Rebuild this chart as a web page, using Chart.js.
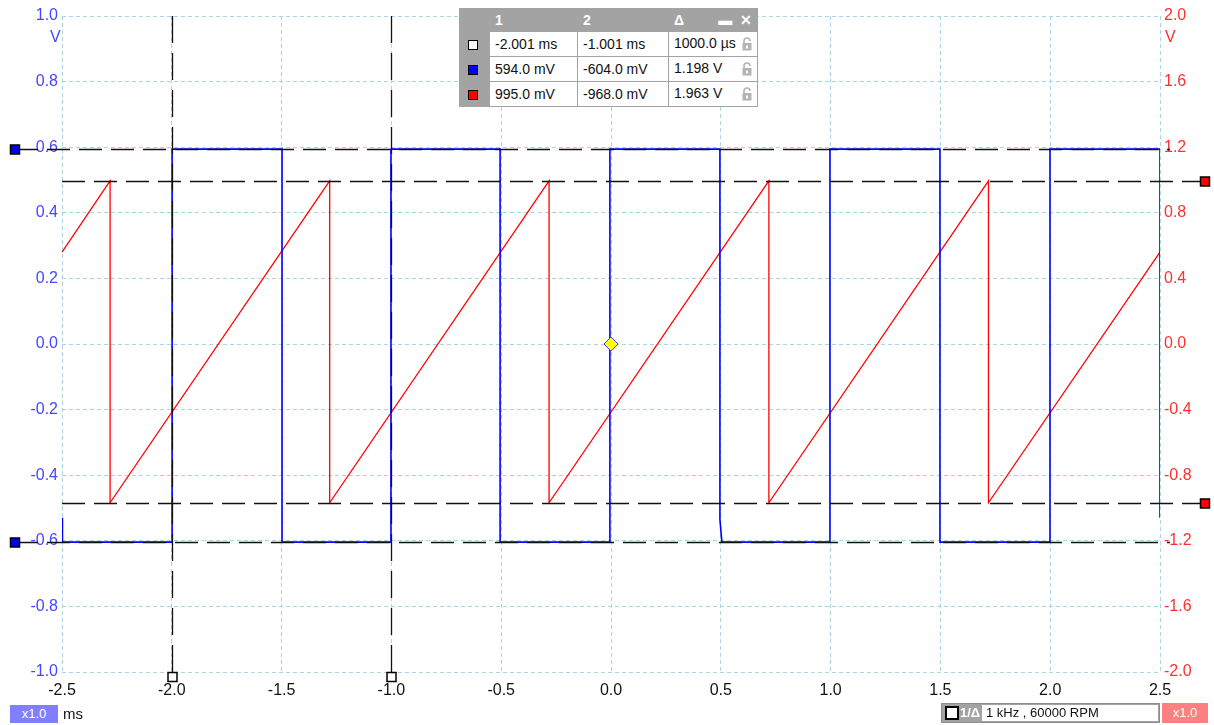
<!DOCTYPE html>
<html>
<head>
<meta charset="utf-8">
<script src="https://cdn.jsdelivr.net/npm/chart.js"></script>
<style>
  body { margin: 0; background: #fff; font-family: "Liberation Sans", Arial, sans-serif; }
  .wrap { position: relative; width: 1214px; height: 725px; overflow: hidden; }
  canvas { position: absolute; left: 0; top: 0; }
  .unit { position: absolute; font-size: 16px; }
  .cursor-table { position: absolute; left: 459px; top: 8px; width: 298px; background: #a3a3a3;
    border: 1px solid #8c8c8c; font-size: 14px; border-collapse: collapse; table-layout: fixed; }
  .cursor-table td { height: 24px; padding: 0 5px; border: 1px solid #a3a3a3; background: #fff; color: #111; white-space: nowrap; }
  .cursor-table tr.head td { background: #a3a3a3; color: #fff; height: 22px; font-weight: bold; }
  .cursor-table td.sw { background: #a3a3a3; padding: 0 0 0 8px; }
  .sq { display: inline-block; width: 8px; height: 8px; border: 1.5px solid #000; vertical-align: middle; }
  .lock { float: right; margin-top: 2px; }
  .tag { position: absolute; font-size: 13px; }
</style>
</head>
<body>
<div class="wrap">
  <canvas id="scope" width="1214" height="725"></canvas>
  <div class="unit" style="left:50px; top:28px; color:#4646ff;">V</div>
  <div class="unit" style="left:1165px; top:28px; color:#ff3030;">V</div>

  <table class="cursor-table">
    <colgroup><col style="width:30px"><col style="width:88px"><col style="width:91px"><col style="width:89px"></colgroup>
    <tr class="head"><td class="sw"></td><td>1</td><td>2</td><td>Δ <span style="float:right">▬&nbsp;&nbsp;✕</span></td></tr>
    <tr><td class="sw"><span class="sq" style="background:#fff"></span></td><td>-2.001 ms</td><td>-1.001 ms</td><td>1000.0 µs <span class="lock lk"></span></td></tr>
    <tr><td class="sw"><span class="sq" style="background:#0000ff"></span></td><td>594.0 mV</td><td>-604.0 mV</td><td>1.198 V <span class="lock lk"></span></td></tr>
    <tr><td class="sw"><span class="sq" style="background:#ff0000"></span></td><td>995.0 mV</td><td>-968.0 mV</td><td>1.963 V <span class="lock lk"></span></td></tr>
  </table>

  <div class="tag" style="left:10px; top:705px; width:48px; height:18px; background:#8080ff; color:#fff; text-align:center; line-height:18px;">x1.0</div>
  <div class="tag" style="left:63px; top:705px; font-size:15px; color:#111;">ms</div>
  <div class="tag" style="left:941px; top:703px; width:217px; height:18px; background:#a3a3a3; border:1px solid #8c8c8c;">
    <span style="position:absolute; left:3px; top:2px; width:10px; height:10px; border:2px solid #000; background:#fff;"></span>
    <span style="position:absolute; left:18px; top:1px; color:#fff; font-weight:bold;">1/Δ</span>
    <span style="position:absolute; left:40px; top:1px; right:1px; bottom:1px; background:#fff; color:#111; padding-left:4px; line-height:16px;">1 kHz , 60000 RPM</span>
  </div>
  <div class="tag" style="left:1162px; top:703px; width:46px; height:20px; background:#ff8080; color:#fff; text-align:center; line-height:20px;">x1.0</div>
</div>

<script>
// channel A (blue, left axis, V) - square wave vertices
const blueTime = [-2.5, -2.498, -1.999, -1.999, -1.998, -1.498, -1.498, -1.002, -1.002, -0.505, -0.505,
  -0.005, -0.005, 0.496, 0.496, 0.505, 0.997, 0.997, 1.498, 1.498, 1.999, 1.999, 2.5, 2.5];
const blueVolts = [-0.53, -0.604, -0.604, 0.588, 0.594, 0.594, -0.604, -0.604, 0.594, 0.594, -0.604,
  -0.604, 0.594, 0.594, -0.535, -0.604, -0.604, 0.594, 0.594, -0.604, -0.604, 0.594, 0.594, -0.53];

// channel B (red, right axis, V) - sawtooth vertices
const redTime = [-2.5, -2.281, -2.281, -1.281, -1.281, -0.282, -0.282, 0.719, 0.719, 1.719, 1.719, 2.5];
const redVolts = [0.56, 0.995, -0.968, 0.995, -0.968, 0.995, -0.968, 0.995, -0.968, 0.995, -0.968, 0.56];

// cursors
const timeCursors = [-2.001, -1.001];
const blueCursors = [0.594, -0.604];
const redCursors = [0.995, -0.968];
const trigger = { t: 0, v: 0 };

// tick settings
const xTicks = { min: -2.5, max: 2.5, step: 0.5 };
const leftTicks = { min: -1, max: 1, step: 0.2 };
const rightTicks = { min: -2, max: 2, step: 0.4 };

const toPoints = (xs, ys) => xs.map((x, i) => ({ x: x, y: ys[i] }));
const fmt = (v) => { const r = Math.round(v * 10) / 10; return (r === 0 ? 0 : r).toFixed(1); };

// grey padlock icons in the cursor table
const lockSvg = '<svg width="10" height="14" viewBox="0 0 10 14"><path d="M2 6V4a3 3 0 0 1 6 0" fill="none" stroke="#b4b4b4" stroke-width="1.6"/><rect x="0.5" y="6" width="9" height="7.5" fill="#b4b4b4"/><rect x="4" y="8.5" width="2" height="3" fill="#fff"/></svg>';
document.querySelectorAll(".lk").forEach((el) => { el.innerHTML = lockSvg; });

const cursorPlugin = {
  id: "cursors",
  afterDatasetsDraw(chart) {
    const { ctx, chartArea: a, scales } = chart;
    const x = scales.x, yl = scales.y, yr = scales.y2;
    ctx.save();

    // horizontal cursors
    ctx.strokeStyle = "#111";
    ctx.lineWidth = 1.3;
    ctx.setLineDash([23, 9]);
    blueCursors.forEach((v) => {
      const py = Math.round(yl.getPixelForValue(v)) + 0.5;
      ctx.beginPath(); ctx.moveTo(15, py); ctx.lineTo(a.right + 10, py); ctx.stroke();
    });
    redCursors.forEach((v) => {
      const py = Math.round(yr.getPixelForValue(v)) + 0.5;
      ctx.beginPath(); ctx.moveTo(a.left, py); ctx.lineTo(1205, py); ctx.stroke();
    });

    // vertical cursors
    ctx.setLineDash([27, 10]);
    timeCursors.forEach((t) => {
      const px = Math.round(x.getPixelForValue(t)) + 0.5;
      ctx.beginPath(); ctx.moveTo(px, a.top); ctx.lineTo(px, a.bottom + 5); ctx.stroke();
    });
    ctx.setLineDash([]);

    // markers
    const square = (cx, cy, fill) => {
      ctx.fillStyle = fill; ctx.strokeStyle = "#000"; ctx.lineWidth = 1.5;
      ctx.fillRect(cx - 4.5, cy - 4.5, 9, 9); ctx.strokeRect(cx - 4.5, cy - 4.5, 9, 9);
    };
    timeCursors.forEach((t) => square(Math.round(x.getPixelForValue(t)) + 0.5, a.bottom + 5, "#fff"));
    blueCursors.forEach((v) => square(15, Math.round(yl.getPixelForValue(v)) + 0.5, "#0000ff"));
    redCursors.forEach((v) => square(1205, Math.round(yr.getPixelForValue(v)) + 0.5, "#ff0000"));

    // trigger diamond
    const tx = x.getPixelForValue(trigger.t), ty = yl.getPixelForValue(trigger.v);
    ctx.beginPath();
    ctx.moveTo(tx, ty - 7); ctx.lineTo(tx + 7, ty); ctx.lineTo(tx, ty + 7); ctx.lineTo(tx - 7, ty); ctx.closePath();
    ctx.fillStyle = "#ffff00"; ctx.fill();
    ctx.strokeStyle = "#4040ff"; ctx.lineWidth = 1; ctx.stroke();
    ctx.restore();
  },
};

const gridColor = "#a9d6e5";

new Chart(document.getElementById("scope"), {
  type: "scatter",
  data: {
    datasets: [
      {
        label: "A",
        data: toPoints(blueTime, blueVolts),
        showLine: true,
        borderColor: "#0000ff",
        borderWidth: 1.6,
        pointRadius: 0,
        yAxisID: "y",
      },
      {
        label: "B",
        data: toPoints(redTime, redVolts),
        showLine: true,
        borderColor: "#ff0000",
        borderWidth: 1.3,
        pointRadius: 0,
        yAxisID: "y2",
      },
    ],
  },
  options: {
    responsive: false,
    animation: false,
    devicePixelRatio: 1,
    layout: { padding: { top: 16, left: 0, right: 0, bottom: 0 } },
    plugins: { legend: { display: false }, tooltip: { enabled: false } },
    scales: {
      x: {
        type: "linear",
        min: xTicks.min,
        max: xTicks.max,
        afterFit: (s) => { s.height = 53; },
        ticks: {
          stepSize: xTicks.step,
          padding: 9,
          color: "#111",
          font: { family: "Liberation Sans", size: 16 },
          callback: (v) => fmt(v),
        },
        grid: { color: gridColor, drawTicks: false, lineWidth: 1 },
        border: { display: false, dash: [4, 3] },
      },
      y: {
        position: "left",
        min: leftTicks.min,
        max: leftTicks.max,
        afterFit: (s) => { s.width = 62; },
        ticks: {
          stepSize: leftTicks.step,
          padding: 4,
          color: "#4646ff",
          font: { family: "Liberation Sans", size: 16 },
          callback: (v) => fmt(v),
        },
        grid: { color: gridColor, drawTicks: false, lineWidth: 1 },
        border: { display: false, dash: [4, 3] },
      },
      y2: {
        position: "right",
        min: rightTicks.min,
        max: rightTicks.max,
        afterFit: (s) => { s.width = 54; },
        ticks: {
          stepSize: rightTicks.step,
          padding: 4,
          color: "#ff3030",
          font: { family: "Liberation Sans", size: 16 },
          callback: (v) => fmt(v),
        },
        grid: { display: false, drawTicks: false },
        border: { display: false },
      },
    },
  },
  plugins: [cursorPlugin],
});
</script>
</body>
</html>
